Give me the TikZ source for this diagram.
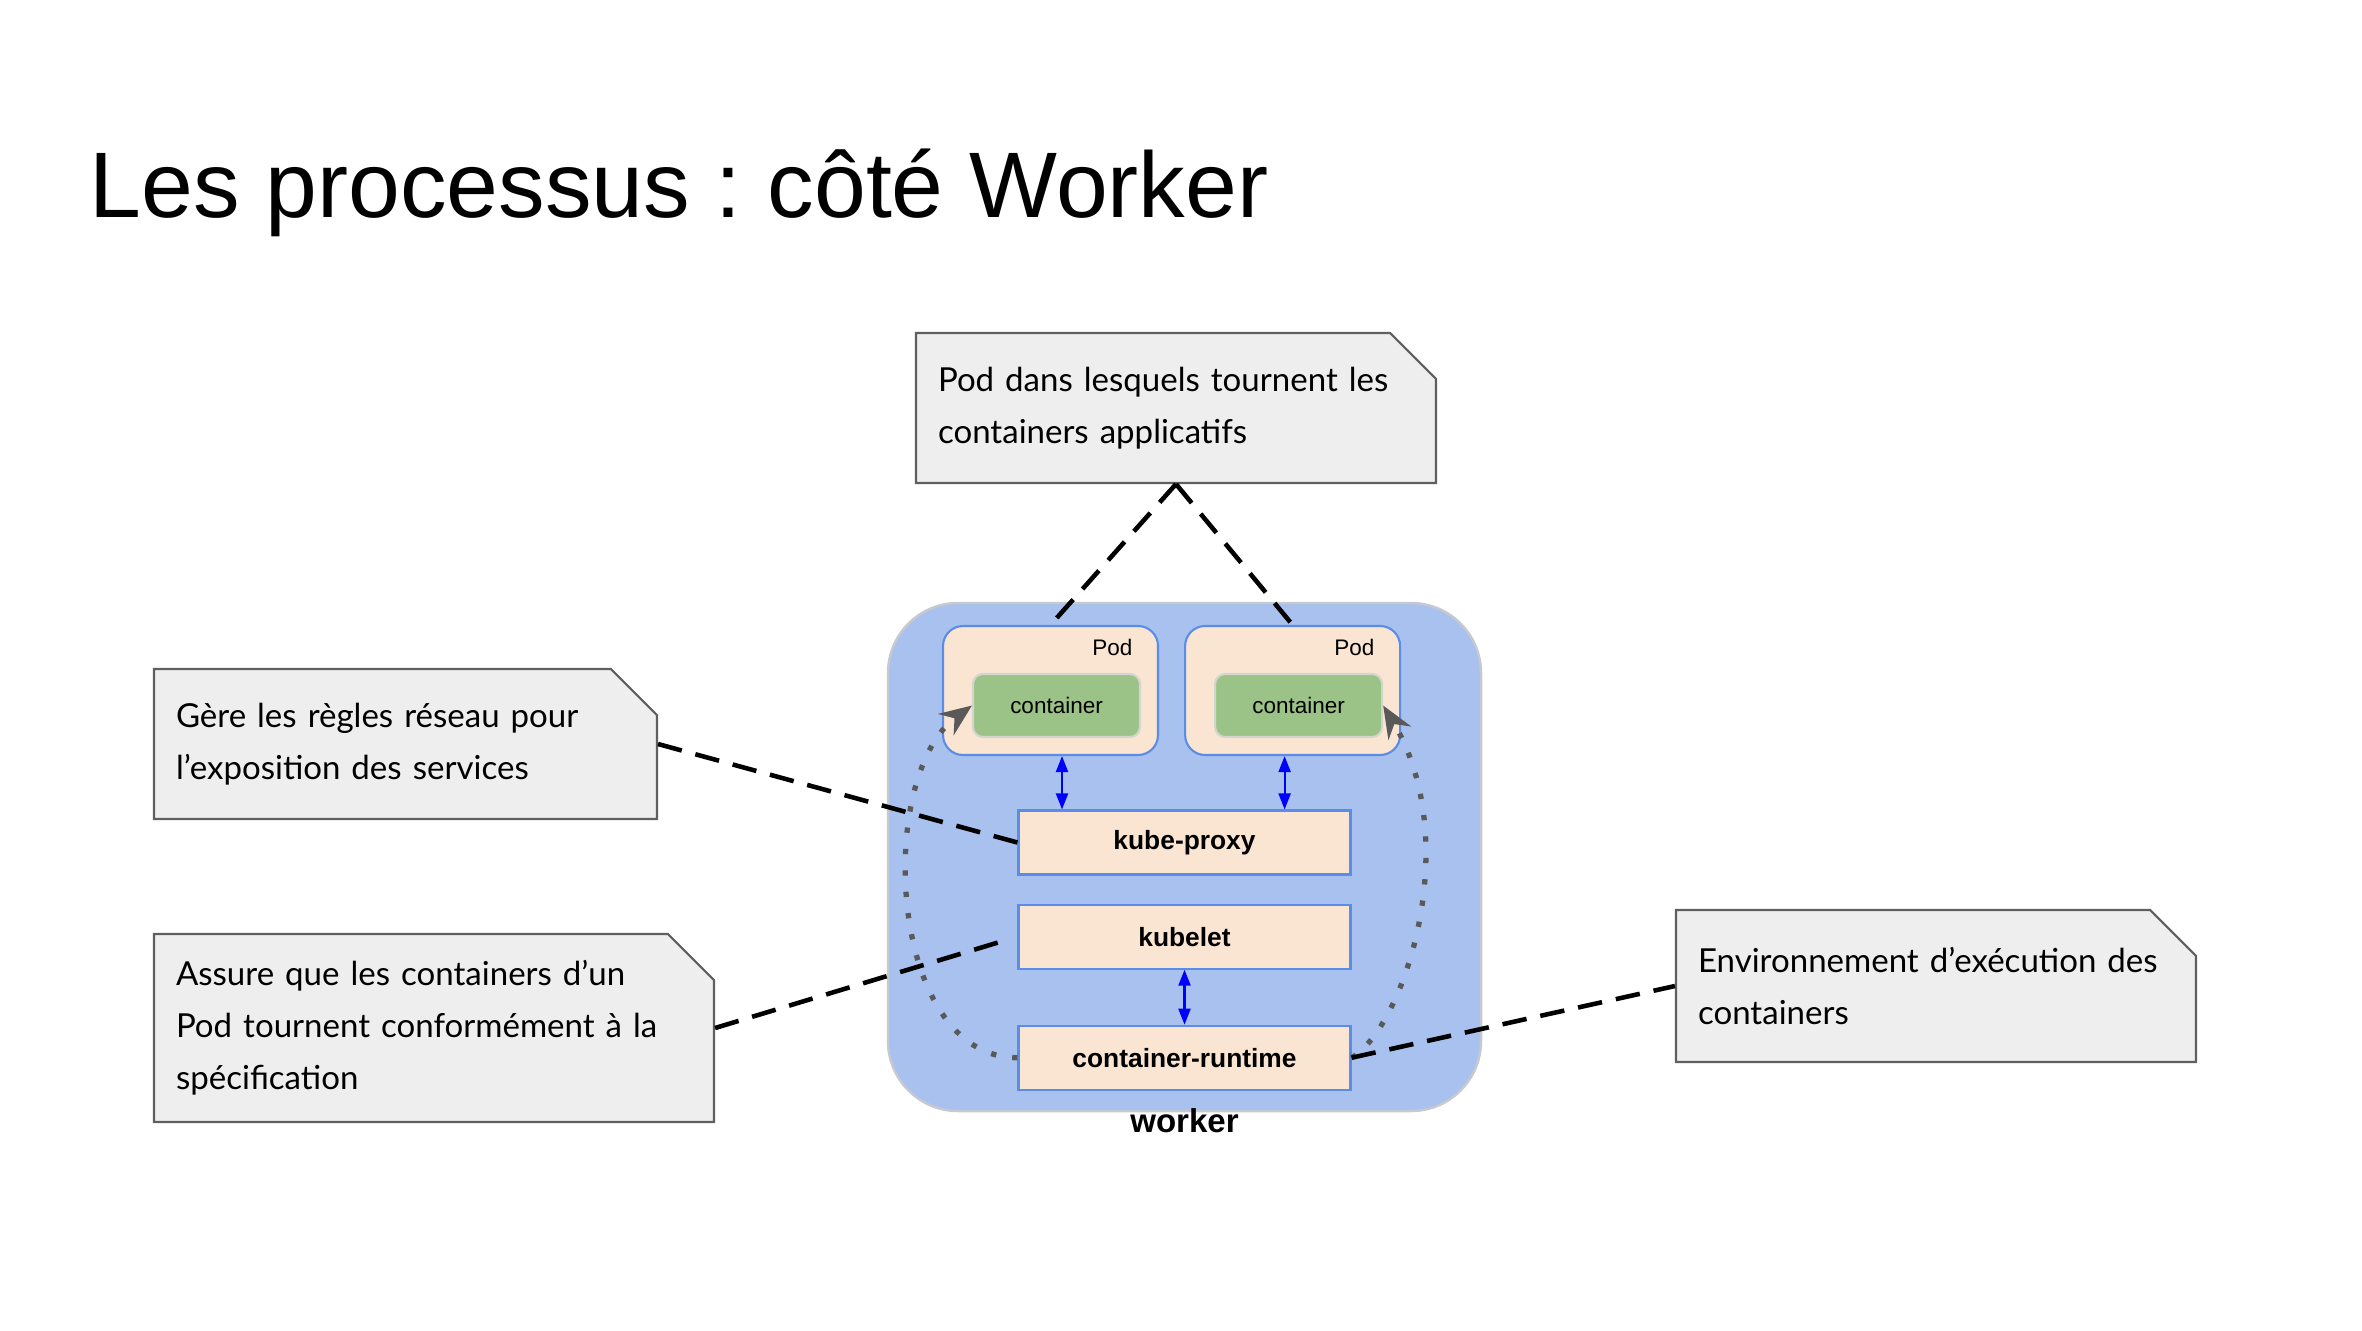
\documentclass[tikz,border=0pt]{standalone}
\usepackage{fontspec}
\setmainfont{Liberation Sans}
\newfontfamily\notefont{Lato}
\usetikzlibrary{arrows.meta,positioning,shapes.misc}
\definecolor{workerblue}{HTML}{A8C1EE}
\definecolor{workerline}{HTML}{C6C9CF}
\definecolor{podfill}{HTML}{F9E5D1}
\definecolor{podline}{HTML}{5A8DE8}
\definecolor{ctgreen}{HTML}{9CC387}
\definecolor{ctline}{HTML}{D2D6CF}
\definecolor{notefill}{HTML}{EEEEEE}
\definecolor{noteline}{HTML}{5F5F5F}
\definecolor{dotgray}{HTML}{595959}
\tikzset{
  >=Stealth,
  every node/.append style={inner sep=0pt},
}
\tikzset{
  note/.style={chamfered rectangle, chamfered rectangle corners=north east,
    chamfered rectangle xsep=2.2mm, chamfered rectangle ysep=2.4mm,
    draw=noteline, fill=notefill, line width=0.6pt, align=left,
    font=\notefont\fontsize{9.4}{14.8}\selectfont},
  dashlink/.style={draw=black, line width=1.3pt, dash pattern=on 7pt off 4pt}
}
\begin{document}
\frenchspacing
\begin{tikzpicture}[
  box/.style={
    rectangle,
    draw=podline,
    fill=podfill,
    line width=0.6pt,
    minimum width=3.32cm,
    minimum height=0.64cm,
    font=\fontsize{7.5}{9}\selectfont\bfseries
  },
  pod/.style={rectangle, rounded corners=2mm, draw=podline, fill=podfill,
    line width=0.6pt, minimum width=2.15cm, minimum height=1.29cm},
  ctr/.style={rectangle, rounded corners=1mm, draw=ctline, fill=ctgreen,
    line width=0.6pt, minimum width=1.67cm, minimum height=0.63cm,
    font=\fontsize{6.4}{8}\selectfont},
  podlabel/.style={anchor=base east, font=\fontsize{6.4}{8}\selectfont},
  biarrow/.style={{Triangle[length=1.6mm,width=1.2mm]}-{Triangle[length=1.6mm,width=1.2mm]},
    draw=blue, line width=0.6pt},
  dotarc/.style={-{Stealth[length=3.2mm,width=2.6mm]}, draw=dotgray,
    line width=1.5pt, dash pattern=on 1.5pt off 4.6pt}
]
\useasboundingbox (0,0) rectangle (23.62,-13.30);

% --- Title ---
\node[anchor=base west, font=\fontsize{26.5}{30}\selectfont] (title) at (0.89,-2.17) {Les processus : côté Worker};

% --- Worker node ---
\node[draw=workerline, fill=workerblue, line width=0.7pt, rounded corners=7mm,
  minimum width=5.93cm, minimum height=5.08cm] (wk) at (11.845,-8.57) {};
\node[anchor=base, font=\fontsize{9.4}{11}\selectfont\bfseries] (wklabel) at ([yshift=-2mm]wk.south) {worker};

% Pods with their container
\node[pod] (pod1) at (10.505,-6.905) {};
\node[pod, right=0.25cm of pod1] (pod2) {};
\node[podlabel] (pod1lbl) at ([xshift=-2.6mm,yshift=-3.1mm]pod1.north east) {Pod};
\node[podlabel] (pod2lbl) at ([xshift=-2.6mm,yshift=-3.1mm]pod2.north east) {Pod};
\node[ctr] (c1) at ([xshift=0.6mm,yshift=-1.5mm]pod1.center) {container};
\node[ctr] (c2) at ([xshift=0.6mm,yshift=-1.5mm]pod2.center) {container};

% Processes
\node[box] (kp) at (11.845,-8.425) {kube-proxy};
\node[box, below=0.28cm of kp] (kl) {kubelet};
\node[box, below=0.55cm of kl] (cr) {container-runtime};

\draw[biarrow] ([xshift=1.15mm]pod1.south) -- ([xshift=1.15mm]pod1.south |- kp.north);
\draw[biarrow] ([xshift=-0.8mm]pod2.south) -- ([xshift=-0.8mm]pod2.south |- kp.north);
\draw[biarrow] (kl.south) -- (cr.north);

% runtime starts the containers
\draw[dotarc] (cr.west) .. controls +(-1.3,0) and +(-0.97,-0.71) .. (c1.west);
\draw[dotarc] (cr.east) .. controls +(0.52,0.3) and +(0.82,-1.37) .. (c2.east);

% --- Notes ---
\node[note, text width=4.76cm, minimum height=1.5cm] (pnote) at (11.76,-4.08)
  {Pod dans lesquels tournent les\\containers applicatifs};
\node[note, text width=4.59cm, minimum height=1.5cm] (gnote) at (4.055,-7.44)
  {Gère les règles réseau pour\\l’exposition des services};
\node[note, text width=5.16cm, minimum height=1.88cm] (anote) at (4.34,-10.28)
  {Assure que les containers d’un\\Pod tournent conformément à la\\spécification};
\node[note, text width=4.76cm, minimum height=1.52cm] (enote) at (19.36,-9.86)
  {Environnement d’exécution des\\containers};

\draw[dashlink] (pnote.south) -- (pod1.north);
\draw[dashlink] (pnote.south) -- (pod2.north);
\draw[dashlink] (gnote.east) -- (kp.west);
\draw[dashlink, shorten >=2mm] (anote.east) -- (kl.west);
\draw[dashlink] (cr.east) -- (enote.west);

\end{tikzpicture}
\end{document}
